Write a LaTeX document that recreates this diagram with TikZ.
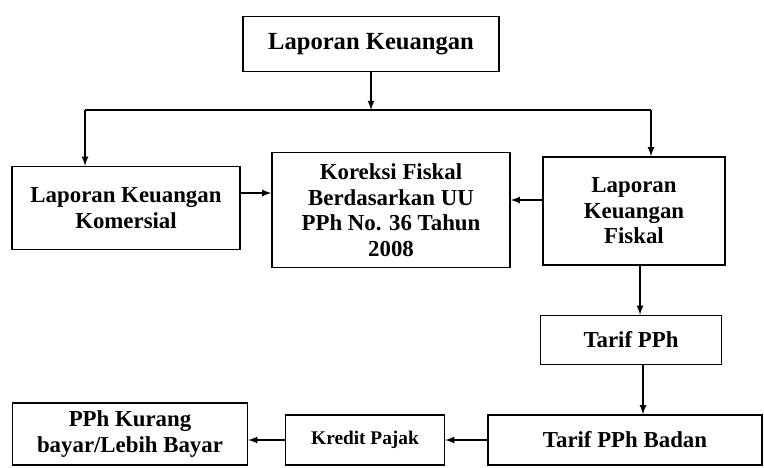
\documentclass[tikz,border=0pt]{standalone}
\usepackage{fontspec}
\setmainfont{Liberation Serif}
\usepackage{tikz}
\usetikzlibrary{calc}

\tikzset{
  flowbox/.style={draw, thick, align=center, inner sep=2pt,
    font=\bfseries\fontsize{13}{14.5}\selectfont},
  flowline/.style={thick, ->, >=latex},
}

\begin{document}
\begin{tikzpicture}[x=0.02cm,y=-0.02cm]
				\useasboundingbox (0,0) rectangle (764,467);
				
				\node[flowbox, minimum width=256*0.02cm, minimum height=55*0.02cm,
				  font=\bfseries\fontsize{14}{16}\selectfont] (lapkeu) at (371,44) {Laporan Keuangan};
				\node[flowbox, minimum width=228*0.02cm, minimum height=83*0.02cm] (komersial) at (126,208) {Laporan Keuangan\\Komersial};
				\node[flowbox, minimum width=238*0.02cm, minimum height=115*0.02cm] (koreksi) at (391,210) {Koreksi Fiskal\\Berdasarkan UU\\PPh No. 36 Tahun\\2008};
				\node[flowbox, minimum width=182*0.02cm, minimum height=108*0.02cm] (fiskal) at (634,211) {Laporan\\Keuangan\\Fiskal};
				\node[flowbox, minimum width=181*0.02cm, minimum height=49*0.02cm] (tarif) at (631,340) {Tarif PPh};
				\node[flowbox, minimum width=274*0.02cm, minimum height=50*0.02cm] (badan) at (625,440) {Tarif PPh Badan};
				\node[flowbox, minimum width=159*0.02cm, minimum height=50*0.02cm,
				  font=\bfseries\fontsize{11}{13}\selectfont] (kredit) at (365,440) {Kredit Pajak};
				\node[flowbox, minimum width=235*0.02cm, minimum height=62*0.02cm] (kurang) at (130,434) {PPh Kurang\\bayar/Lebih Bayar};
				
				% percabangan
				\coordinate (split)  at (371,110);
				\coordinate (splitL) at (85,110);
				\coordinate (splitR) at (651,110);
				\draw[flowline] (lapkeu.south) -- (split);
				\draw[thick] (splitL) -- (splitR);
				\draw[flowline] (splitL) -- (splitL |- komersial.north);
				\draw[flowline] (splitR) -- (splitR |- fiskal.north);
				
				% titik keluar panah
				\coordinate (komOut) at ([yshift=0.3cm]komersial.east);
				\coordinate (fisOut) at ([yshift=0.22cm]fiskal.west);
				\coordinate (fisDown) at ([xshift=0.12cm]fiskal.south);
				\coordinate (tarDown) at ([xshift=0.24cm]tarif.south);
				
				\draw[flowline] (komOut) -- (koreksi.west |- komOut);
				\draw[flowline] (fisOut) -- (koreksi.east |- fisOut);
				\draw[flowline] (fisDown) -- (fisDown |- tarif.north);
				\draw[flowline] (tarDown) -- (tarDown |- badan.north);
				\draw[flowline] (badan.west) -- (kredit.east);
				\draw[flowline] (kredit.west) -- (kurang.east |- kredit.west);
\end{tikzpicture}
\end{document}
